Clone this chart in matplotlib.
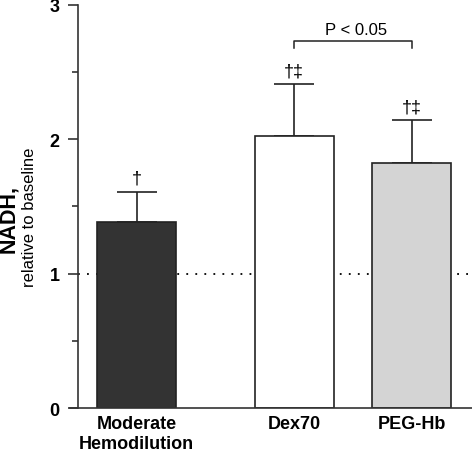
import matplotlib
matplotlib.use('Agg')
import matplotlib.pyplot as plt
from matplotlib.ticker import MultipleLocator

plt.rcParams['font.family'] = ['Liberation Sans', 'DejaVu Sans']

# values
groups = ['Moderate\nHemodilution', 'Dex70', 'PEG-Hb']
positions = [0, 1.34, 2.34]
means = [1.385, 2.025, 1.824]
errors = [0.225, 0.385, 0.318]
colors = ['#333333', '#ffffff', '#d4d4d4']
marks = ['\u2020', '\u2020\u2021', '\u2020\u2021']

fig = plt.figure(figsize=(4.72, 4.52), dpi=100)
ax = fig.add_axes([0.165, 0.095, 0.835, 0.892])

# baseline
ax.axhline(1, color='black', linestyle=(0, (1, 4)), linewidth=1.3, zorder=0)

ax.bar(positions, means, width=0.672, color=colors, edgecolor='#222222',
       linewidth=1.2, zorder=2)
ax.errorbar(positions, means, yerr=[[0, 0, 0], errors], fmt='none',
            ecolor='#222222', elinewidth=1.2, capsize=14.4, capthick=1.2,
            zorder=1)

for x, m, e, s in zip(positions, means, errors, marks):
    ax.text(x, m + e + 0.1, s, ha='center', va='center', fontsize=13)

# significance bracket
y0, y1 = 2.68, 2.73
ax.plot([positions[1], positions[1], positions[2], positions[2]],
        [y0, y1, y1, y0], color='#222222', linewidth=1.1, clip_on=False)
ax.text((positions[1] + positions[2]) / 2 + 0.03, 2.815, 'P < 0.05',
        ha='center', va='center', fontsize=12)

ax.set_xlim(-0.5, 2.855)
ax.set_ylim(0, 3)
ax.set_xticks(positions)
ax.set_xticklabels(groups, fontsize=13, fontweight='bold')
ax.tick_params(axis='x', length=0, pad=5)
ax.yaxis.set_major_locator(MultipleLocator(1))
ax.yaxis.set_minor_locator(MultipleLocator(0.5))
ax.tick_params(axis='y', which='major', length=7, width=1.2,
               labelsize=13, pad=6, color='#333333')
ax.tick_params(axis='y', which='minor', length=4, width=1.2, color='#333333')
for lab in ax.get_yticklabels():
    lab.set_fontweight('bold')

for side in ['top', 'right']:
    ax.spines[side].set_visible(False)
for side in ['left', 'bottom']:
    ax.spines[side].set_color('#333333')
    ax.spines[side].set_linewidth(1.2)
ax.spines['bottom'].set_bounds(-0.57, 2.855)

fig.text(0.019, 0.515, 'NADH,', rotation=90, ha='center', va='center',
         fontsize=15.5, fontweight='bold')
fig.text(0.062, 0.52, 'relative to baseline', rotation=90, ha='center',
         va='center', fontsize=12)

fig.savefig('out.png', dpi=100)
